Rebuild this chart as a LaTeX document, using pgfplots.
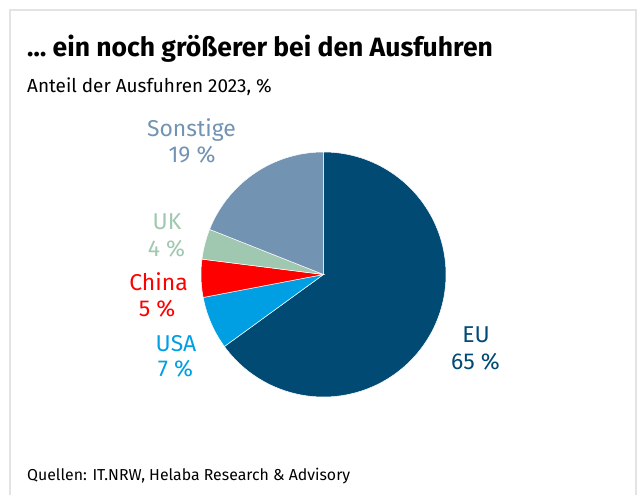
\documentclass[border=0pt]{standalone}
\usepackage{fontspec}
\setmainfont{Fira Sans}
\usepackage{pgfplots}
\usepackage{pgfplotstable}
\pgfplotsset{compat=1.18}
\definecolor{cEU}{HTML}{004A74}
\definecolor{cUSA}{HTML}{009FE3}
\definecolor{cChina}{HTML}{FF0000}
\definecolor{cUK}{HTML}{A0C8B0}
\definecolor{cSon}{HTML}{7393B3}
\definecolor{frame}{HTML}{E3E3E3}
% shares in percent, clockwise from 12 o'clock
\def\vEU{65}
\def\vUSA{7}
\def\vChina{5}
\def\vUK{4}
\def\vSon{19}
\pgfmathsetmacro\aA{90}
\pgfmathsetmacro\aB{\aA-3.6*\vEU}
\pgfmathsetmacro\aC{\aB-3.6*\vUSA}
\pgfmathsetmacro\aD{\aC-3.6*\vChina}
\pgfmathsetmacro\aE{\aD-3.6*\vUK}
\pgfmathsetmacro\aF{\aE-3.6*\vSon}
\def\cx{323.5}
\def\cy{220.5}
\def\rr{122.5}
\begin{document}
\begin{tikzpicture}
\begin{axis}[
  width=637bp, height=495bp, scale only axis,
  xmin=0, xmax=637, ymin=0, ymax=495,
  hide axis, clip=false,
]
\path (axis cs:0,0) rectangle (axis cs:637,495);
\draw[frame, line width=1.5bp] (axis cs:10,0) -- (axis cs:10,485) -- (axis cs:636,485) -- (axis cs:636,0);
% slices
\addplot[fill=cEU, draw=white, line width=0.5bp, domain=\aB:\aA, samples=120, variable=\t]
  ({\cx+\rr*cos(\t)},{\cy+\rr*sin(\t)}) -- (axis cs:\cx,\cy) -- cycle;
\addplot[fill=cUSA, draw=white, line width=0.5bp, domain=\aC:\aB, samples=30, variable=\t]
  ({\cx+\rr*cos(\t)},{\cy+\rr*sin(\t)}) -- (axis cs:\cx,\cy) -- cycle;
\addplot[fill=cChina, draw=white, line width=0.5bp, domain=\aD:\aC, samples=30, variable=\t]
  ({\cx+\rr*cos(\t)},{\cy+\rr*sin(\t)}) -- (axis cs:\cx,\cy) -- cycle;
\addplot[fill=cUK, draw=white, line width=0.5bp, domain=\aE:\aD, samples=30, variable=\t]
  ({\cx+\rr*cos(\t)},{\cy+\rr*sin(\t)}) -- (axis cs:\cx,\cy) -- cycle;
\addplot[fill=cSon, draw=white, line width=0.5bp, domain=\aF:\aE, samples=60, variable=\t]
  ({\cx+\rr*cos(\t)},{\cy+\rr*sin(\t)}) -- (axis cs:\cx,\cy) -- cycle;
% texts
\node[anchor=base west, inner sep=0pt, font=\fontsize{26.6}{30}\selectfont\bfseries] at (axis cs:27,438) {\dots{} ein noch größerer bei den Ausfuhren};
\node[anchor=base west, inner sep=0pt, font=\fontsize{19}{22}\selectfont] at (axis cs:27,402) {Anteil der Ausfuhren 2023, \%};
\node[anchor=base west, inner sep=0pt, font=\fontsize{15.9}{19}\selectfont] at (axis cs:27,15) {Quellen: IT.NRW, Helaba Research \& Advisory};
\tikzset{lab/.style={anchor=base, inner sep=0pt, font=\fontsize{23}{26}\selectfont}}
\node[lab, text=cSon] at (axis cs:191.5,358) {Sonstige};
\node[lab, text=cSon] at (axis cs:192,332) {19 \%};
\node[lab, text=cUK] at (axis cs:167,265) {UK};
\node[lab, text=cUK] at (axis cs:166.5,238) {4 \%};
\node[lab, text=cChina] at (axis cs:158.5,204) {China};
\node[lab, text=cChina] at (axis cs:157,178) {5 \%};
\node[lab, text=cUSA] at (axis cs:176,143) {USA};
\node[lab, text=cUSA] at (axis cs:175.5,118) {7 \%};
\node[lab, text=cEU] at (axis cs:476,152) {EU};
\node[lab, text=cEU] at (axis cs:475.5,125) {65 \%};
\end{axis}
\end{tikzpicture}
\end{document}
